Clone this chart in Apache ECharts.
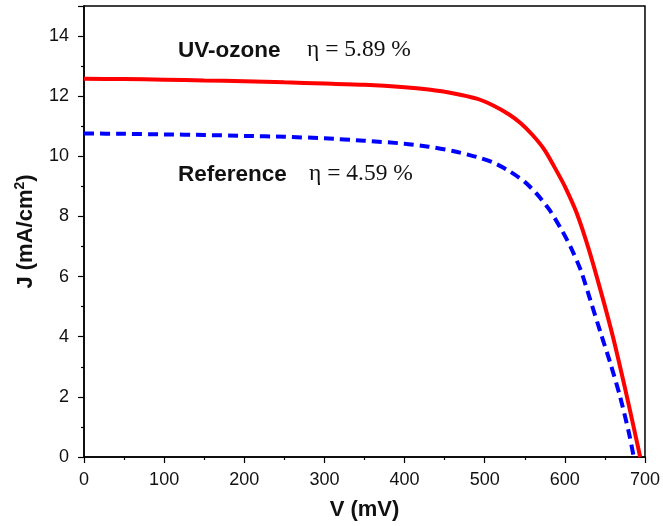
<!DOCTYPE html>
<html>
<head>
<meta charset="utf-8">
<script src="https://cdn.jsdelivr.net/npm/echarts@6/dist/echarts.min.js"></script>
<style>
  html, body { margin: 0; padding: 0; background: #fff; }
  #main { width: 663px; height: 526px; }
</style>
</head>
<body>
<div id="main"></div>
<script>
// J-V curves
var vUv = [0, 50, 100, 150, 200, 250, 300, 350, 400, 430, 460, 490, 510, 530, 545, 560, 575, 590, 600, 615, 630, 645, 660, 675, 685, 694];
var jUv = [12.58, 12.57, 12.55, 12.52, 12.5, 12.46, 12.42, 12.38, 12.3, 12.22, 12.1, 11.92, 11.7, 11.4, 11.1, 10.7, 10.2, 9.5, 9.0, 8.1, 6.9, 5.5, 4.0, 2.3, 1.1, 0];

var vRef = [0, 50, 100, 150, 200, 250, 300, 350, 400, 430, 460, 490, 510, 530, 550, 565, 580, 595, 607, 620, 632, 645, 657, 669, 680, 686];
var jRef = [10.76, 10.75, 10.73, 10.71, 10.68, 10.65, 10.6, 10.52, 10.42, 10.32, 10.18, 9.98, 9.8, 9.52, 9.15, 8.75, 8.25, 7.6, 7.0, 6.2, 5.2, 4.1, 3.1, 2.0, 0.8, 0];

var labelUv = 'UV-ozone';
var etaUv = 'η = 5.89 %';
var labelRef = 'Reference';
var etaRef = 'η = 4.59 %';

function pairs(xs, ys) {
  return xs.map(function (x, i) { return [x, ys[i]]; });
}

var chart = echarts.init(document.getElementById('main'));
var tickFont = { fontFamily: 'Liberation Sans', fontSize: 18, color: '#111' };
var nameFont = { fontFamily: 'Liberation Sans', fontSize: 22, fontWeight: 'bold', color: '#111' };

chart.setOption({
  animation: false,
  grid: {
    left: 84, right: 15, top: 6, bottom: 66,
    show: true, borderColor: '#000', borderWidth: 1.5
  },
  xAxis: {
    type: 'value', min: 0, max: 700, interval: 100,
    name: 'V (mV)', nameLocation: 'middle', nameGap: 42,
    nameTextStyle: nameFont,
    axisLine: { show: true, lineStyle: { color: '#000', width: 1.5 } },
    axisTick: { show: true, inside: false, length: 6, lineStyle: { color: '#000', width: 1.2 } },
    minorTick: { show: true, splitNumber: 2, length: 3, lineStyle: { color: '#000', width: 1.2 } },
    axisLabel: Object.assign({ margin: 14 }, tickFont),
    splitLine: { show: false }
  },
  yAxis: {
    type: 'value', min: 0, max: 15, interval: 2,
    name: '{t|J (mA/cm}{s|2}{t|)}', nameLocation: 'middle', nameGap: 45,
    nameTextStyle: Object.assign({
      rich: {
        t: nameFont,
        s: { fontFamily: 'Liberation Sans', fontSize: 14, fontWeight: 'bold', color: '#111', padding: [0, 0, 12, 0] }
      }
    }, nameFont),
    axisLine: { show: true, lineStyle: { color: '#000', width: 1.5 } },
    axisTick: { show: true, inside: false, length: 6, lineStyle: { color: '#000', width: 1.2 } },
    minorTick: { show: true, splitNumber: 2, length: 3, lineStyle: { color: '#000', width: 1.2 } },
    axisLabel: Object.assign({ margin: 15, showMaxLabel: false }, tickFont),
    splitLine: { show: false }
  },
  series: [
    {
      name: labelUv, type: 'line', data: pairs(vUv, jUv),
      showSymbol: false, smooth: 0.25,
      lineStyle: { color: '#ff0000', width: 4 }
    },
    {
      name: labelRef, type: 'line', data: pairs(vRef, jRef),
      showSymbol: false, smooth: 0.25,
      lineStyle: { color: '#0000ff', width: 4, type: [10, 6] }
    }
  ],
  graphic: [
    { type: 'text', left: 178, top: 39, style: { text: labelUv, font: 'bold 22.5px "Liberation Sans"', fill: '#111' } },
    { type: 'text', left: 307, top: 38, style: { text: etaUv, font: '23.5px "Liberation Serif"', fill: '#111' } },
    { type: 'text', left: 178, top: 163, style: { text: labelRef, font: 'bold 22.5px "Liberation Sans"', fill: '#111' } },
    { type: 'text', left: 309, top: 162, style: { text: etaRef, font: '23.5px "Liberation Serif"', fill: '#111' } }
  ]
});
</script>
</body>
</html>
